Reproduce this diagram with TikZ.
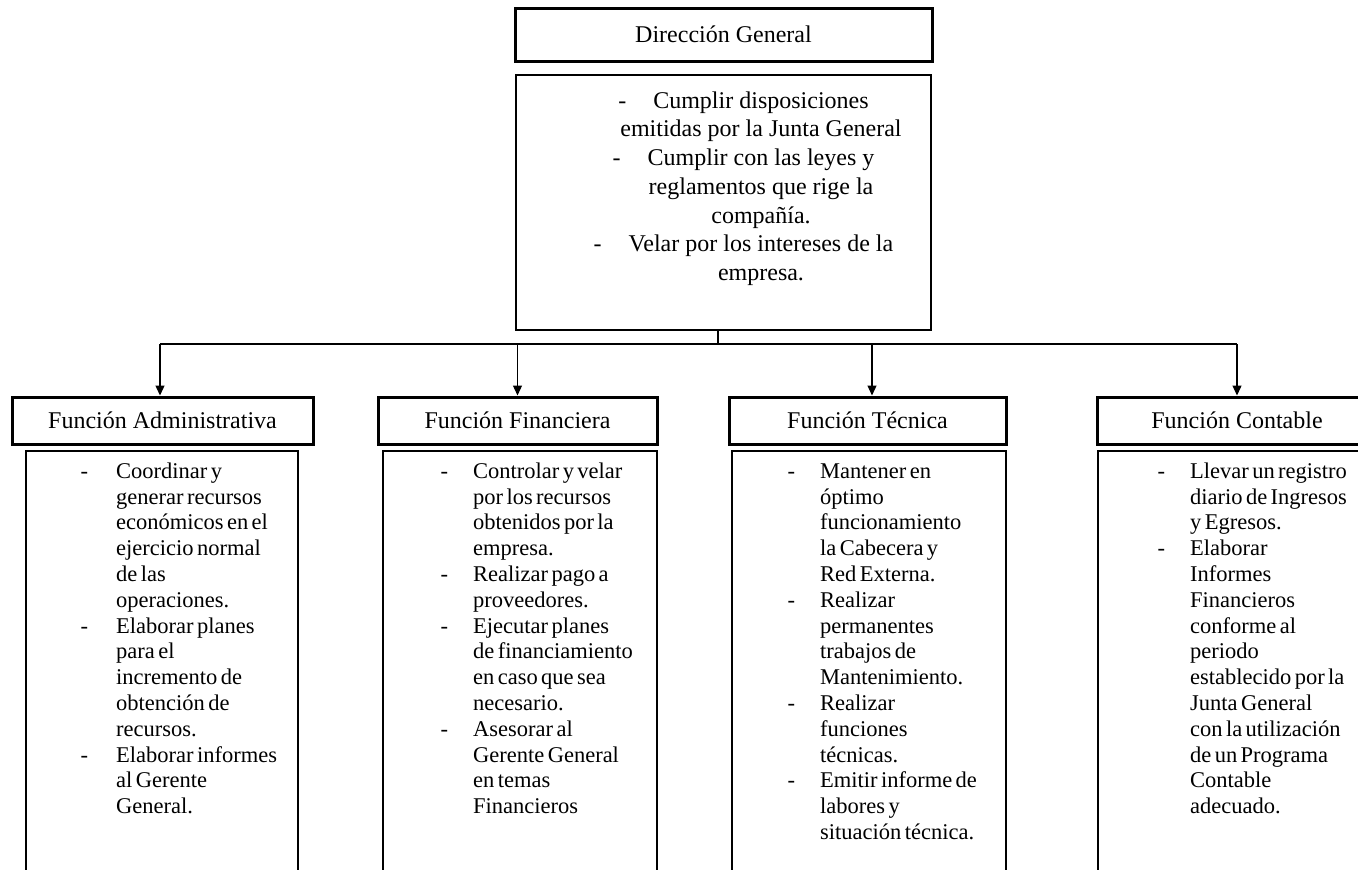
\documentclass[tikz,border=0pt]{standalone}
\usepackage{fontspec}
\setmainfont{Liberation Serif}
\newfontfamily\listfont[WordSpace=0.6]{Liberation Serif}
\usetikzlibrary{arrows.meta}
% hanging dash in front of a list item
\newcommand\itemdash[1][25pt]{\llap{-\hspace{#1}}}
\begin{document}
\begin{tikzpicture}[x=1pt,y=-1pt,
  headbox/.style={draw, line width=3pt, rectangle, inner sep=0pt,
    minimum height=47pt, text height=16pt, text depth=0pt,
    font=\fontsize{24}{28}\selectfont},
  listbox/.style={draw, line width=1.4pt, rectangle, inner sep=0pt},
  listtext/.style={inner sep=0pt, anchor=north west, align=left,
    font=\listfont\fontsize{22.5}{25.8}\selectfont},
  conn/.style={line width=1.3pt},
  arr/.style={conn, -{Triangle[width=9pt,length=10pt]}}
]
\path[use as bounding box] (0,0) rectangle (1358,870);
\clip (0,0) rectangle (1358,870);
\fill[white] (0,0) rectangle (1358,870);

% top level
\node[headbox, minimum width=417pt, minimum height=53pt] (dg) at (723.5,34.5) {Dirección General};
\node[listbox, minimum width=415pt, minimum height=255pt] (dgbox) at (723.5,202.5) {};
\node[anchor=north, align=center, inner sep=0pt, font=\fontsize{24}{28.7}\selectfont] (dgtext) at (761,90)
  {\itemdash[27pt]\rule{0pt}{18pt}Cumplir disposiciones\\
   emitidas por la Junta General\\
   \itemdash[27pt]Cumplir con las leyes y\\
   reglamentos que rige la\\
   compañía.\\
   \itemdash[27pt]Velar por los intereses de la\\
   empresa.};

% function headers
\node[headbox, minimum width=301pt] (fa) at (162.5,420.5) {Función Administrativa};
\node[headbox, minimum width=279pt] (ff) at (517.5,420.5) {Función Financiera};
\node[headbox, minimum width=277pt] (ft) at (867.5,420.5) {Función Técnica};
\node[headbox, minimum width=280pt] (fc) at (1237,420.5) {Función Contable};

% function detail boxes
\node[listbox, minimum width=272pt, minimum height=449pt] (la) at (162,675.5) {};
\node[listbox, minimum width=274pt, minimum height=449pt] (lf) at (520,675.5) {};
\node[listbox, minimum width=274pt, minimum height=449pt] (lt) at (869,675.5) {};
\node[listbox, minimum width=280pt, minimum height=449pt] (lc) at (1238,675.5) {};

\node[listtext] (lat) at (116,461)
  {\itemdash[28pt]\rule{0pt}{17pt}Coordinar y\\
   generar recursos\\
   económicos en el\\
   ejercicio normal\\
   de las\\
   operaciones.\\
   \itemdash[28pt]Elaborar planes\\
   para el\\
   incremento de\\
   obtención de\\
   recursos.\\
   \itemdash[28pt]Elaborar informes\\
   al Gerente\\
   General.};

\node[listtext] (lft) at (473,461)
  {\itemdash\rule{0pt}{17pt}Controlar y velar\\
   por los recursos\\
   obtenidos por la\\
   empresa.\\
   \itemdash Realizar pago a\\
   proveedores.\\
   \itemdash Ejecutar planes\\
   de financiamiento\\
   en caso que sea\\
   necesario.\\
   \itemdash Asesorar al\\
   Gerente General\\
   en temas\\
   Financieros};

\node[listtext] (ltt) at (820,461)
  {\itemdash\rule{0pt}{17pt}Mantener en\\
   óptimo\\
   funcionamiento\\
   la Cabecera y\\
   Red Externa.\\
   \itemdash Realizar\\
   permanentes\\
   trabajos de\\
   Mantenimiento.\\
   \itemdash Realizar\\
   funciones\\
   técnicas.\\
   \itemdash Emitir informe de\\
   labores y\\
   situación técnica.};

\node[listtext] (lct) at (1190,461)
  {\itemdash\rule{0pt}{17pt}Llevar un registro\\
   diario de Ingresos\\
   y Egresos.\\
   \itemdash Elaborar\\
   Informes\\
   Financieros\\
   conforme al\\
   periodo\\
   establecido por la\\
   Junta General\\
   con la utilización\\
   de un Programa\\
   Contable\\
   adecuado.};

% connectors
\coordinate (bus) at (718,344);
\coordinate (down) at ([xshift=-5.5pt]dgbox.south);
\coordinate (ta) at ([xshift=-2.5pt]fa.north);
\coordinate (tf) at (ff.north);
\coordinate (tt) at ([xshift=4.5pt]ft.north);
\coordinate (tc) at (fc.north);
\draw[conn] (down) -- (bus);
\draw[conn] (ta |- bus) -- (tc |- bus);
\draw[arr] (ta |- bus) -- (ta);
\draw[arr] (tf |- bus) -- (tf);
\draw[arr] (tt |- bus) -- (tt);
\draw[arr] (tc |- bus) -- (tc);
\end{tikzpicture}
\end{document}
